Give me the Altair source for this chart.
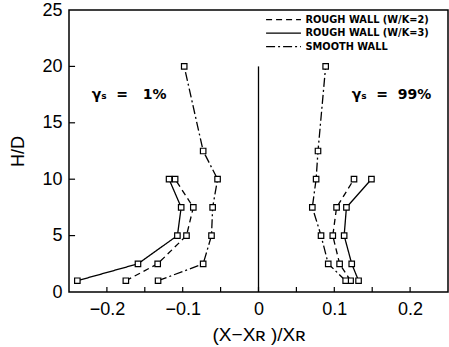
import altair as alt
import pandas as pd

# Profile heights (H/D)
h_rough = [1, 2.5, 5, 7.5, 10]
h_smooth = [1, 2.5, 5, 7.5, 10, 12.5, 20]

# gamma = 1 % side
left_wk2 = [-0.175, -0.133, -0.095, -0.086, -0.110]
left_wk3 = [-0.239, -0.159, -0.107, -0.102, -0.118]
left_smooth = [-0.1325, -0.073, -0.062, -0.0605, -0.054, -0.073, -0.098]

# gamma = 99 % side
right_wk2 = [0.1215, 0.107, 0.098, 0.103, 0.126]
right_wk3 = [0.132, 0.123, 0.113, 0.116, 0.149]
right_smooth = [0.115, 0.092, 0.0825, 0.071, 0.076, 0.0785, 0.0886]

series_names = ["ROUGH WALL (W/K=2)", "ROUGH WALL (W/K=3)", "SMOOTH WALL"]
dash_styles = [[6, 4], [1, 0], [9, 3, 2, 3]]

x_ticks = [-0.2, -0.15, -0.1, -0.05, 0, 0.05, 0.1, 0.15, 0.2]
y_ticks = [5, 10, 15, 20]

rows = []
for side, sets in (
    ("left", [(left_wk2, h_rough), (left_wk3, h_rough), (left_smooth, h_smooth)]),
    ("right", [(right_wk2, h_rough), (right_wk3, h_rough), (right_smooth, h_smooth)]),
):
    for name, (xs, hs) in zip(series_names, sets):
        for i, (xv, hv) in enumerate(zip(xs, hs)):
            rows.append({"x": xv, "h": hv, "series": name, "side": side, "idx": i})
df = pd.DataFrame(rows)

xs = alt.Scale(domain=[-0.25, 0.25], nice=False, zero=False)
ys = alt.Scale(domain=[0, 25], nice=False)
dash = alt.StrokeDash("series:N", scale=alt.Scale(domain=series_names, range=dash_styles), legend=None)

FONT = "Liberation Sans"

base = alt.Chart(df)

lines = base.mark_line(color="black", strokeWidth=1.3).encode(
    x=alt.X("x:Q", scale=xs,
            axis=alt.Axis(values=[-0.2, -0.1, 0, 0.1, 0.2], format=".1~f", ticks=False,
                          domain=False, grid=False, labelFontSize=18, labelFont=FONT,
                          labelColor="black", labelPadding=8,
                          title="(X−Xʀ )/Xʀ", titleFontSize=19, titleFont=FONT,
                          titleFontWeight="normal", titleColor="black", titlePadding=7)),
    y=alt.Y("h:Q", scale=ys,
            axis=alt.Axis(values=[0, 5, 10, 15, 20, 25], format="d", ticks=False,
                          domain=False, grid=False, labelFontSize=18, labelFont=FONT,
                          labelColor="black", labelPadding=7,
                          title="H/D", titleFontSize=18, titleFont=FONT,
                          titleFontWeight="normal", titleColor="black", titlePadding=14)),
    strokeDash=dash,
    detail="side:N",
    order="idx:Q",
)

points = base.mark_point(shape="square", filled=True, fill="white", stroke="black",
                         strokeWidth=1.2, size=30, opacity=1).encode(
    x=alt.X("x:Q", scale=xs), y=alt.Y("h:Q", scale=ys))

# Divider between the two panels
divider = alt.Chart(pd.DataFrame({"x": [0], "y0": [0], "y1": [20]})).mark_rule(
    color="black", strokeWidth=1.3).encode(
    x=alt.X("x:Q", scale=xs), y=alt.Y("y0:Q", scale=ys), y2="y1:Q")

# Inward tick marks
xt = alt.Chart(pd.DataFrame({"x": x_ticks, "y0": 0, "y1": 0.45})).mark_rule(
    color="black", strokeWidth=1.2).encode(
    x=alt.X("x:Q", scale=xs), y=alt.Y("y0:Q", scale=ys), y2="y1:Q")
yt = alt.Chart(pd.DataFrame({"y": y_ticks, "x0": -0.25, "x1": -0.242})).mark_rule(
    color="black", strokeWidth=1.2).encode(
    y=alt.Y("y:Q", scale=ys), x=alt.X("x0:Q", scale=xs), x2="x1:Q")

# Legend drawn in the upper right corner
leg = pd.DataFrame({"series": series_names, "y": [24.15, 22.95, 21.75],
                    "x0": 0.010, "x1": 0.056, "xt": 0.062})
leg_lines = alt.Chart(leg).mark_rule(color="black", strokeWidth=1.3).encode(
    x=alt.X("x0:Q", scale=xs), x2="x1:Q", y=alt.Y("y:Q", scale=ys), strokeDash=dash)
leg_text = alt.Chart(leg).mark_text(align="left", baseline="middle", font="DejaVu Sans",
                                    fontWeight="bold", fontSize=9.8, color="black").encode(
    x=alt.X("xt:Q", scale=xs), y=alt.Y("y:Q", scale=ys), text="series:N")

# Panel labels
NB = "\u00a0"
ann = pd.DataFrame({"x": [-0.22, 0.123], "y": [17.5, 17.5],
                    "t": [f"γₛ{NB*2}={NB*3}1%", f"γₛ{NB*2}={NB*2}99%"]})
ann_text = alt.Chart(ann).mark_text(align="left", baseline="middle", font="DejaVu Sans",
                                    fontWeight="bold", fontSize=14, color="black").encode(
    x=alt.X("x:Q", scale=xs), y=alt.Y("y:Q", scale=ys), text="t:N")

chart = alt.layer(xt, yt, divider, lines, points, leg_lines, leg_text, ann_text).properties(
    width=379, height=282,
    autosize=alt.AutoSizeParams(type="none"),
    padding={"left": 69, "top": 10, "right": 1, "bottom": 55},
    background="white",
).configure_view(stroke="black", strokeWidth=1.5)

chart.save("out.html", embed_options={"renderer": "svg", "actions": False})
